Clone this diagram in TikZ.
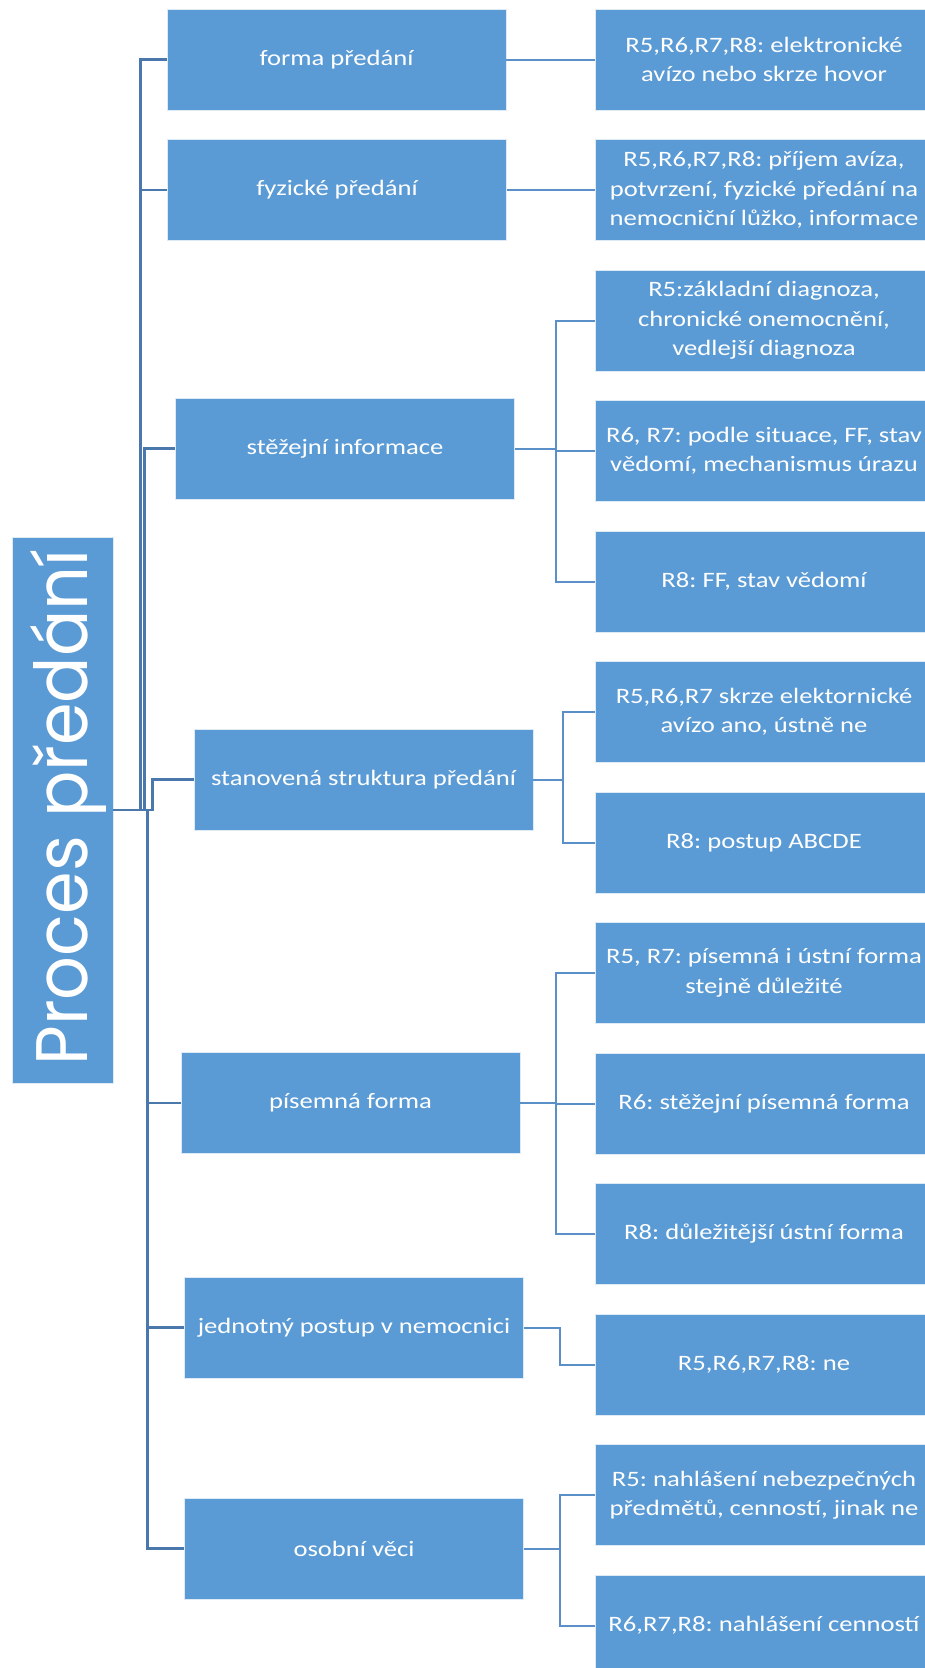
\documentclass[tikz,border=0pt]{standalone}
\usepackage{fontspec}
\setmainfont{Carlito}[FakeStretch=1.21]
\newfontfamily\rootfont{Poppins}[FakeStretch=0.94]
\definecolor{boxblue}{HTML}{5B9BD5}
\definecolor{trunkc}{HTML}{4A78AC}
\definecolor{childc}{HTML}{5B8FC8}
\frenchspacing
\begin{document}
\begin{tikzpicture}[x=1pt,y=-1pt,
  box/.style={fill=boxblue, draw=white!80!boxblue, line width=0.8pt, text=white, align=center,
              font=\fontsize{22}{29.5}\selectfont, inner sep=0pt},
  lbox/.style={box, minimum width=339pt, minimum height=101pt},
  rbox/.style={box, minimum width=338pt, minimum height=101pt},
  trunk/.style={draw=trunkc, line width=2.6pt},
  link/.style={draw=childc, line width=2pt}]
\useasboundingbox (0,0) rectangle (925,1668);
\clip (0,0) rectangle (925,1668);

% root
\node[box, minimum width=101pt, minimum height=546pt] (root) at (62.5,810) {};
\node[rotate=90, anchor=base, inner sep=0pt, text=white,
      font=\rootfont\fontsize{73}{73}\selectfont] (roottext) at (87,807.5) {Proces předání};

% level 1
\node[lbox] (forma) at (336.5,59.5) {forma předání};
\node[lbox] (fyz)   at (337,190)    {fyzické předání};
\node[lbox] (stez)  at (345,448.5)  {stěžejní informace};
\node[lbox] (stan)  at (363.5,779.5){stanovená struktura předání};
\node[lbox] (pis)   at (350.5,1103) {písemná forma};
\node[lbox] (jed)   at (354,1327.5) {jednotný postup v nemocnici};
\node[lbox] (oso)   at (354,1548.5) {osobní věci};

% level 2
\node[rbox] (r1)  at (764,59.5)   {R5,R6,R7,R8: elektronické\\avízo nebo skrze hovor};
\node[rbox] (r2)  at (764,190)    {R5,R6,R7,R8: příjem avíza,\\potvrzení, fyzické předání na\\nemocniční lůžko, informace};
\node[rbox] (r3)  at (764,320.5)  {R5:základní diagnoza,\\chronické onemocnění,\\vedlejší diagnoza};
\node[rbox] (r4)  at (764,451)    {R6, R7: podle situace, FF, stav\\vědomí, mechanismus úrazu};
\node[rbox] (r5)  at (764,581.5)  {R8: FF, stav vědomí};
\node[rbox] (r6)  at (764,712)    {R5,R6,R7 skrze elektornické\\avízo ano, ústně ne};
\node[rbox] (r7)  at (764,842.5)  {R8: postup ABCDE};
\node[rbox] (r8)  at (764,973)    {R5, R7: písemná i ústní forma\\stejně důležité};
\node[rbox] (r9)  at (764,1103.5) {R6: stěžejní písemná forma};
\node[rbox] (r10) at (764,1234)   {R8: důležitější ústní forma};
\node[rbox] (r11) at (764,1364.5) {R5,R6,R7,R8: ne};
\node[rbox] (r12) at (764,1495)   {R5: nahlášení nebezpečných\\předmětů, cenností, jinak ne};
\node[rbox] (r13) at (764,1625.5) {R6,R7,R8: nahlášení cenností};

% trunk connectors
\draw[trunk] (root.east) -- ++(27,0) |- (forma.west);
\draw[trunk] (root.east) -- ++(27,0) |- (fyz.west);
\draw[trunk] (root.east) -- ++(31,0) |- (stez.west);
\draw[trunk] (root.east) -- ++(39,0) |- (stan.west);
\draw[trunk] (root.east) -- ++(34,0) |- (pis.west);
\draw[trunk] (root.east) -- ++(34,0) |- (jed.west);
\draw[trunk] (root.east) -- ++(34,0) |- (oso.west);

% child connectors
\draw[link] (forma.east) -- (r1.west);
\draw[link] (fyz.east) -- ++(44,0) |- (r2.west);
\foreach \c in {r3,r4,r5} \draw[link] (stez.east) -- ++(41,0) |- (\c.west);
\foreach \c in {r6,r7} \draw[link] (stan.east) -- ++(30,0) |- (\c.west);
\foreach \c in {r8,r9,r10} \draw[link] (pis.east) -- ++(36,0) |- (\c.west);
\draw[link] (jed.east) -- ++(36,0) |- (r11.west);
\foreach \c in {r12,r13} \draw[link] (oso.east) -- ++(36,0) |- (\c.west);
\end{tikzpicture}
\end{document}
